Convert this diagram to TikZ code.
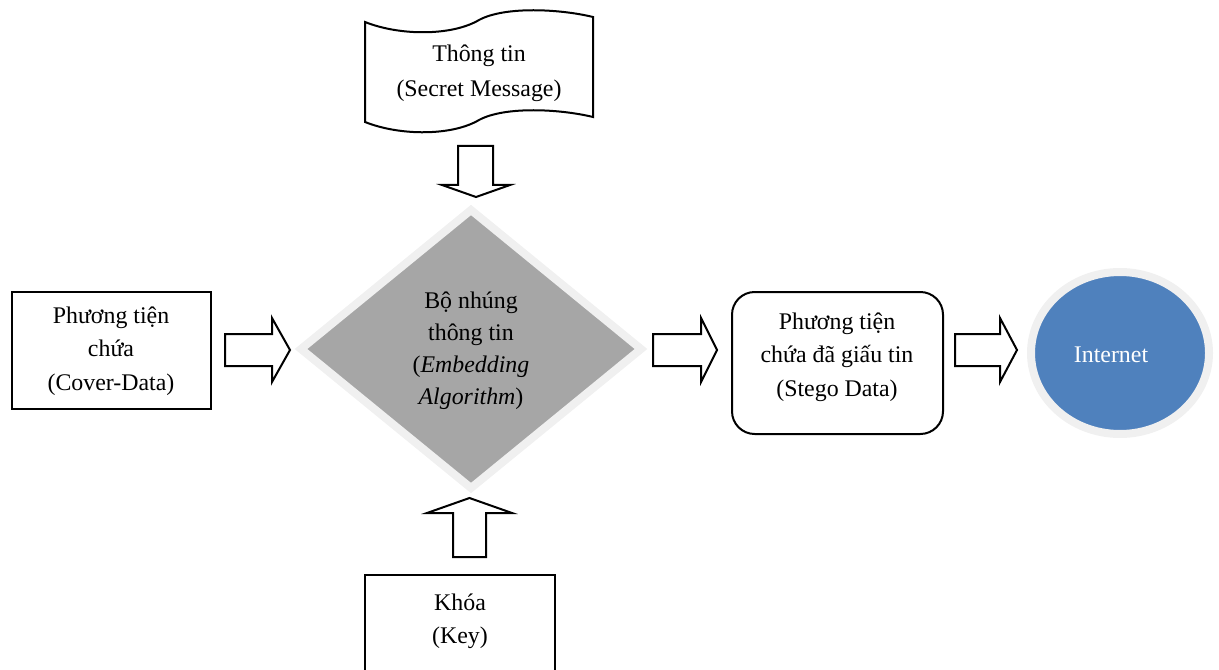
\documentclass[tikz,border=0pt]{standalone}
\usepackage{fontspec}
\setmainfont{Liberation Serif}
\definecolor{diagfill}{HTML}{A6A6A6}
\definecolor{softborder}{HTML}{F0F0F0}
\definecolor{netblue}{HTML}{4F81BD}
\begin{document}
\begin{tikzpicture}[x=0.75pt,y=-0.75pt]
\tikzset{
 txt/.style={font=\fontsize{17.9}{25}\selectfont, align=center, inner sep=0pt},
 outl/.style={draw=black, line width=1.5pt},
 barrow/.style={draw=black, line width=1.5pt, fill=white, line join=miter},
 softshape/.style={line width=6pt, draw=softborder, line join=miter},
}
\useasboundingbox (0,0) rectangle (1219,670);
\clip (0,0) rectangle (1219,670);

% secret message (document shape)
\draw[outl] (365,22) .. controls (400,36) and (452,36) .. (479,20)
  .. controls (505,6) and (560,9) .. (593,17) -- (593,117)
  .. controls (560,109) and (505,106) .. (479,120)
  .. controls (452,136) and (400,136) .. (365,122) -- cycle;
\node[txt, font=\fontsize{17.9}{26}\selectfont] (msg) at (479,73) {Thông tin\\(Secret Message)};

% embedding algorithm (diamond)
\draw[softshape, fill=diagfill] (471,210) -- (641,349) -- (471,488) -- (301,349) -- cycle;
\node[txt, font=\fontsize{17.9}{24}\selectfont] (algo) at (471,351)
  {Bộ nhúng\\thông tin\\(\textit{Embedding}\\\textit{Algorithm})};

% cover data
\draw[outl] (12,292) rectangle (211,409);
\node[txt] (cover) at (111,351) {Phương tiện\\chứa\\(Cover-Data)};

% stego data
\draw[outl, rounded corners=17pt] (732,292) rectangle (943,434);
\node[txt] (stego) at (837,357) {Phương tiện\\chứa đã giấu tin\\(Stego Data)};

% internet
\draw[softshape, fill=netblue] (1120,353) ellipse [x radius=66.75pt, y radius=60.75pt];
\node[txt, text=white] (inet) at (1111,355) {Internet};

% key
\draw[outl] (365,690) -- (365,575) -- (555,575) -- (555,690);
\node[txt] (key) at (460,621) {Khóa\\(Key)};

% block arrows
\draw[barrow] (458,146) -- (493,146) -- (493,185) -- (510,185) -- (476,197) -- (442,185) -- (458,185) -- cycle;
\draw[barrow] (453,557) -- (486,557) -- (486,513) -- (512,513) -- (469.5,498) -- (427,513) -- (453,513) -- cycle;
\draw[barrow] (225,334) -- (272,334) -- (272,318) -- (290,350) -- (272,382) -- (272,366) -- (225,366) -- cycle;
\draw[barrow] (653,334) -- (701,334) -- (701,318) -- (717,350) -- (701,382) -- (701,366) -- (653,366) -- cycle;
\draw[barrow] (955,334) -- (1000,334) -- (1000,318) -- (1017,350) -- (1000,382) -- (1000,366) -- (955,366) -- cycle;
\end{tikzpicture}
\end{document}
